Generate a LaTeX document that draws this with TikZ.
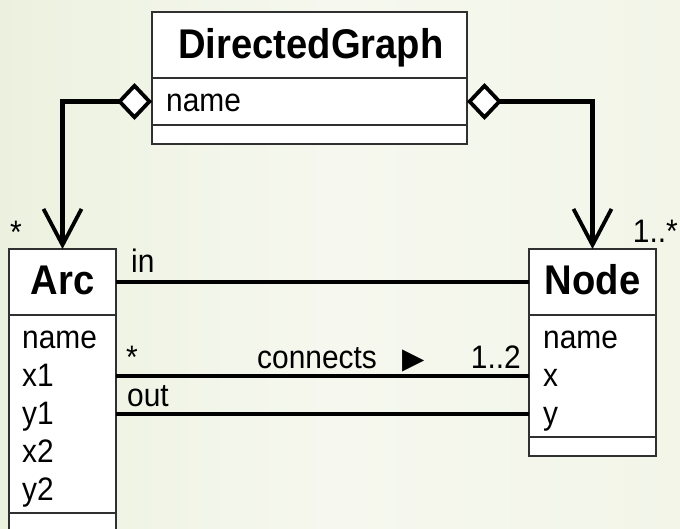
\documentclass[tikz,border=0pt]{standalone}
\usepackage{fontspec}
\setmainfont{Liberation Sans}[FakeStretch=0.92]
\newfontfamily\symfont{DejaVu Sans}
\usetikzlibrary{arrows.meta}
\definecolor{bgl}{HTML}{ECF1DF}
\definecolor{bgm}{HTML}{F6F8EF}
\definecolor{bgr}{HTML}{F2F5E8}
\definecolor{boxline}{HTML}{303030}
\begin{document}
\begin{tikzpicture}[x=1pt,y=-1pt,
  box/.style={draw=boxline, line width=1.3pt, fill=white, anchor=north west, inner sep=0pt, outer sep=0pt},
  title/.style={font=\fontsize{41.5}{41.5}\selectfont\bfseries, inner sep=0pt, anchor=base},
  attr/.style={font=\fontsize{32.5}{32.5}\selectfont, inner sep=0pt, anchor=base west},
  lbl/.style={font=\fontsize{32.5}{32.5}\selectfont, inner sep=0pt},
  assoc/.style={line width=4.5pt, draw=black},
  agg/.style={line width=4.5pt, draw=black,
    {Diamond[length=35pt,width=37pt,fill=white,line width=3.8pt]}-{Straight Barb[length=36pt,width=38pt,line width=3.8pt]}}
]
\useasboundingbox (0,0) rectangle (680,528);
\shade[left color=bgl, right color=bgr, middle color=bgm] (0,0) rectangle (680,528);

% DirectedGraph
\node[box, minimum width=315pt, minimum height=66pt] (dghead) at (152,12) {};
\node[box, minimum width=315pt, minimum height=47pt] (dgattr) at (152,78) {};
\node[box, minimum width=315pt, minimum height=19pt] (dgops) at (152,125) {};
\node[title] (dgtitle) at (311,58) {DirectedGraph};
\node[attr] (dgname) at (166,111) {name};

% Arc
\node[box, minimum width=107pt, minimum height=66pt] (archead) at (9,249) {};
\node[box, minimum width=107pt, minimum height=198pt] (arcattr) at (9,315) {};
\node[box, minimum width=107pt, minimum height=40pt] (arcops) at (9,513) {};
\node[title] (arctitle) at (62.5,294) {Arc};
\node[attr] (arcname) at (22,348) {name};
\node[attr] (arcxa) at (22,386) {x1};
\node[attr] (arcya) at (22,424) {y1};
\node[attr] (arcxb) at (22,462) {x2};
\node[attr] (arcyb) at (22,500) {y2};

% Node
\node[box, minimum width=127pt, minimum height=66pt] (nodehead) at (529,249) {};
\node[box, minimum width=127pt, minimum height=122pt] (nodeattr) at (529,315) {};
\node[box, minimum width=127pt, minimum height=19pt] (nodeops) at (529,437) {};
\node[title] (nodetitle) at (592.5,294) {Node};
\node[attr] (nodename) at (543,348) {name};
\node[attr] (nodex) at (543,386) {x};
\node[attr] (nodey) at (543,424) {y};

% connectors
\coordinate (connY) at (0,376);
\coordinate (outY) at (0,414);
\draw[agg] (dgattr.west) -| (archead.north);
\draw[agg] (dgattr.east) -| (nodehead.north);
\draw[assoc] (archead.east) -- (nodehead.west);
\draw[assoc] (arcattr.east |- connY) -- (nodeattr.west |- connY);
\draw[assoc] (arcattr.east |- outY) -- (nodeattr.west |- outY);

% labels
\node[lbl, anchor=base west] (mulArc) at (10,243) {*};
\node[lbl, anchor=base east] (mulNode) at (678,242) {1..*};
\node[lbl, anchor=base west] (inlbl) at (131,272) {in};
\node[lbl, anchor=base west] (srcmul) at (126,368) {*};
\node[lbl, anchor=base west] (connlbl) at (257,368) {connects\hspace{26pt}{\symfont\fontsize{29}{29}\selectfont ▶}};
\node[lbl, anchor=base east] (tgtmul) at (521,368) {1..2};
\node[lbl, anchor=base west] (outlbl) at (127,406) {out};
\end{tikzpicture}
\end{document}
